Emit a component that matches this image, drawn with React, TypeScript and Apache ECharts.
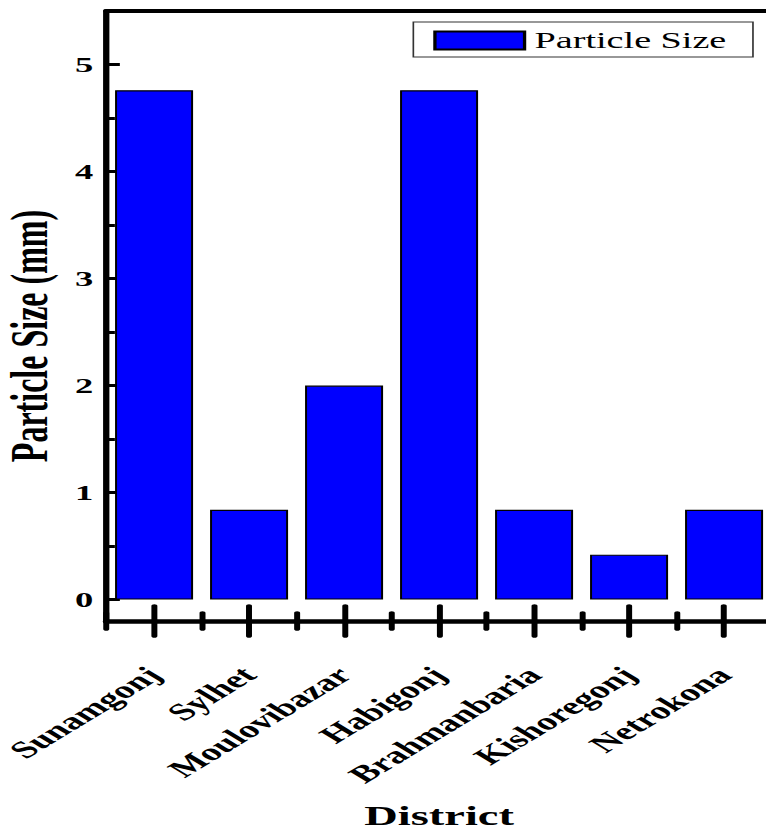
import React, { useEffect, useRef } from 'react';
import * as echarts from 'echarts';

// horizontal stretch of the reference picture
const S = 1.66;
const CHART_W = 472;
const CHART_H = 830;

const districts = ['Sunamgonj', 'Sylhet', 'Moulovibazar', 'Habigonj', 'Brahmanbaria', 'Kishoregonj', 'Netrokona'];
const particleSize = [4.76, 0.84, 2.0, 4.76, 0.84, 0.42, 0.84];
const yMajorTicks = [0, 1, 2, 3, 4, 5];
const yMinorTicks = [0.5, 1.5, 2.5, 3.5, 4.5];
const yMin = -0.2;
const yMax = 5.5;

const FONT = 'Liberation Serif';

function buildOption(): echarts.EChartsOption {
  const tickStyle = (w: number) => ({ color: '#000', width: w, cap: 'round' as const });
  const baseX = {
    type: 'category' as const,
    data: districts,
    position: 'bottom' as const,
    axisLabel: { show: false, interval: 0 },
    splitLine: { show: false },
  };
  return {
    animation: false,
    backgroundColor: '#fff',
    grid: {
      left: 64.2,
      right: CHART_W - 464.8,
      top: 11,
      bottom: CHART_H - 621,
      containLabel: false,
      outerBoundsMode: 'none',
    },
    legend: {
      left: 249,
      top: 22,
      padding: [7, 16, 5, 12],
      borderColor: '#333',
      borderWidth: 1,
      itemWidth: 54,
      itemHeight: 18,
      icon: 'rect',
      textStyle: { fontFamily: FONT, fontSize: 23, color: '#000', padding: [0, 0, 0, 1] },
      data: ['Particle Size'],
    },
    xAxis: [
      {
        ...baseX,
        axisLine: { show: true, onZero: false, lineStyle: { color: '#000', width: 4.5 } },
        axisTick: { show: true, interval: 0, alignWithLabel: true, inside: true, length: 15, lineStyle: tickStyle(3.6) },
        axisLabel: {
          show: true,
          interval: 0,
          rotate: 45,
          margin: 50,
          align: 'right',
          verticalAlign: 'middle',
          fontFamily: FONT,
          fontWeight: 'bold',
          fontSize: 24,
          color: '#000',
        },
        name: 'District',
        nameLocation: 'middle',
        nameGap: 181,
        nameTextStyle: { fontFamily: FONT, fontWeight: 'bold', fontSize: 28, color: '#000' },
      },
      {
        ...baseX,
        axisLine: { show: false, onZero: false },
        axisTick: { show: true, interval: 0, alignWithLabel: true, inside: false, length: 15, lineStyle: tickStyle(3.6) },
      },
      {
        ...baseX,
        axisLine: { show: false, onZero: false },
        axisTick: { show: true, interval: 0, alignWithLabel: false, inside: true, length: 8, lineStyle: tickStyle(3.6) },
      },
      {
        ...baseX,
        axisLine: { show: false, onZero: false },
        axisTick: { show: true, interval: 0, alignWithLabel: false, inside: false, length: 8, lineStyle: tickStyle(3.6) },
      },
      {
        ...baseX,
        position: 'top',
        axisLine: { show: true, onZero: false, lineStyle: { color: '#000', width: 4 } },
        axisTick: { show: false },
      },
    ],
    yAxis: [
      {
        type: 'value',
        min: yMin,
        max: yMax,
        position: 'left',
        splitLine: { show: false },
        axisLine: { show: true, onZero: false, lineStyle: { color: '#000', width: 3.8 } },
        axisTick: { show: true, inside: true, length: 8, customValues: yMajorTicks, lineStyle: { color: '#000', width: 3 } },
        axisLabel: {
          show: true,
          customValues: yMajorTicks,
          margin: 8,
          fontFamily: FONT,
          fontWeight: 'bold',
          fontSize: 22,
          color: '#000',
        },
        name: 'Particle Size (mm)',
        nameLocation: 'middle',
        nameGap: 31,
        nameTextStyle: { fontFamily: FONT, fontWeight: 'bold', fontSize: 32, color: '#000', padding: [0, 40, 0, 0] },
      },
      {
        type: 'value',
        min: yMin,
        max: yMax,
        position: 'left',
        splitLine: { show: false },
        axisLine: { show: false, onZero: false },
        axisTick: { show: true, inside: true, length: 5, customValues: yMinorTicks, lineStyle: { color: '#000', width: 3 } },
        axisLabel: { show: false },
      },
    ],
    series: [
      {
        name: 'Particle Size',
        type: 'bar',
        xAxisIndex: 0,
        yAxisIndex: 0,
        data: particleSize,
        barWidth: 47,
        itemStyle: { color: '#0000FF', borderColor: '#000', borderWidth: 1.2 },
      },
    ],
  } as echarts.EChartsOption;
}

export default function App() {
  const ref = useRef<HTMLDivElement>(null);
  useEffect(() => {
    if (!ref.current) return;
    const chart = echarts.init(ref.current, null, { renderer: 'svg' });
    chart.setOption(buildOption());
    return () => chart.dispose();
  }, []);
  return (
    <div
      style={{
        position: 'fixed',
        left: 0,
        top: 0,
        width: 766,
        height: 830,
        overflow: 'hidden',
        background: '#fff',
      }}
    >
      <div
        ref={ref}
        style={{ width: CHART_W, height: CHART_H, transform: `scaleX(${S})`, transformOrigin: '0 0' }}
      />
    </div>
  );
}
